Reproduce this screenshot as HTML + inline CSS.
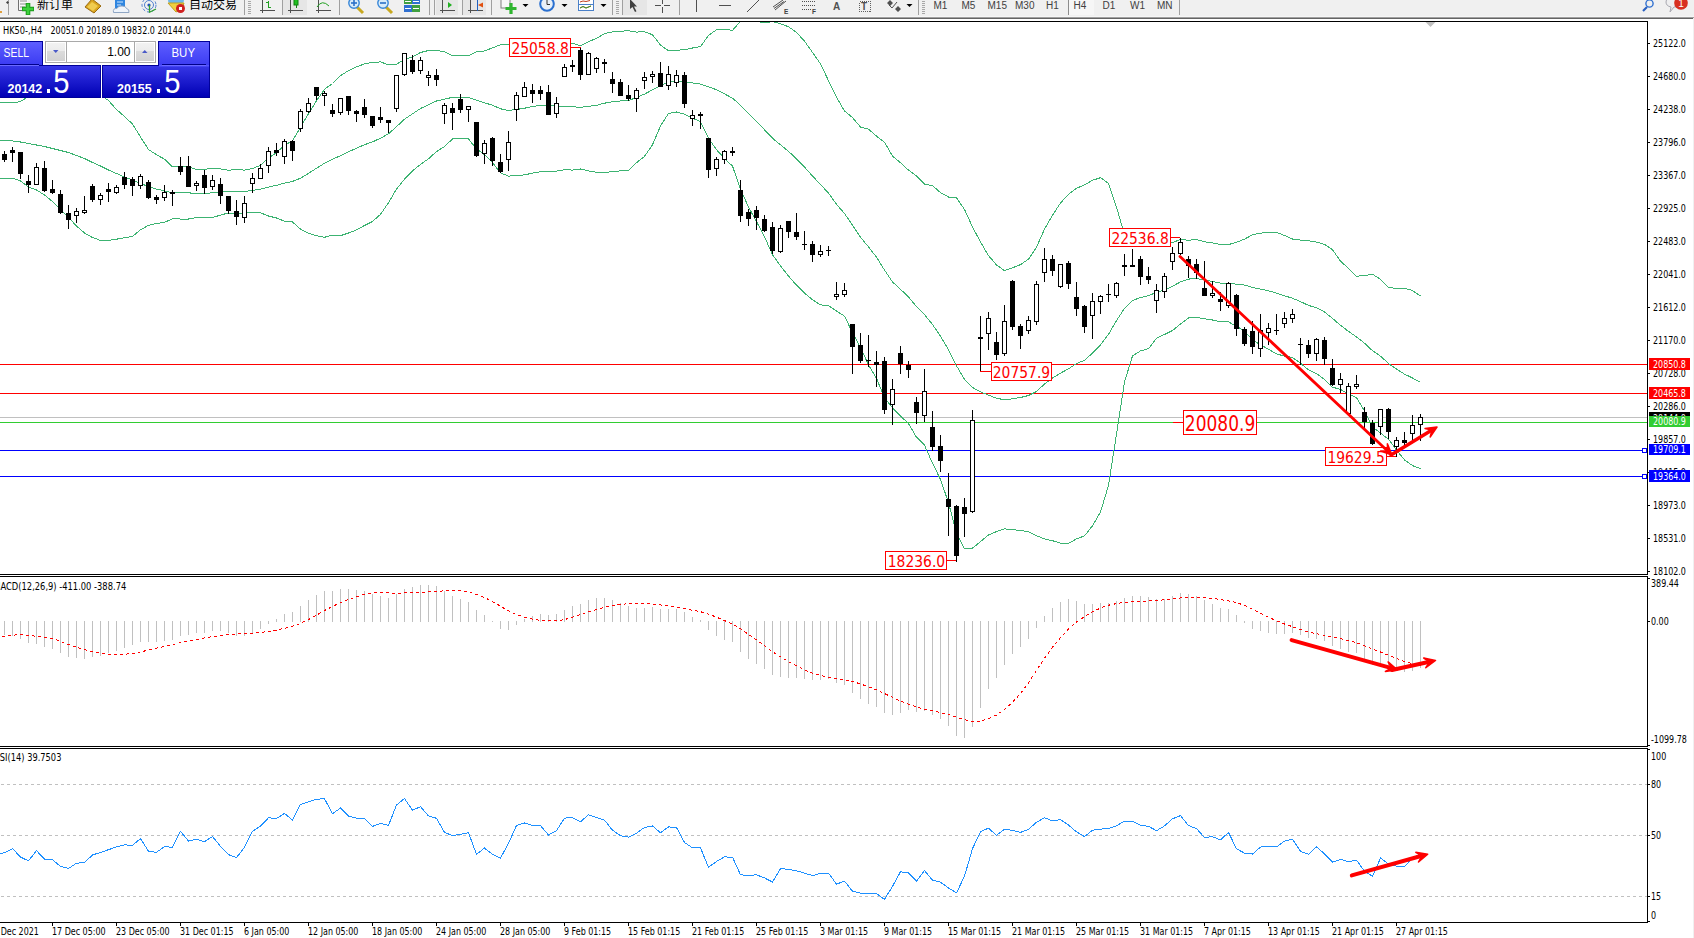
<!DOCTYPE html>
<html><head><meta charset="utf-8"><title>HK50 H4</title>
<style>
html,body{margin:0;padding:0;background:#fff;width:1694px;height:938px;overflow:hidden;position:relative;font-family:'Liberation Sans',Arial,sans-serif}
#ch{position:absolute;left:0;top:0}
#rs{position:absolute;left:1693px;top:18px;width:1px;height:920px;background:#f0f0f0}
</style></head><body>
<svg id="ch" width="1694" height="938" viewBox="0 0 1694 938">
<g shape-rendering="crispEdges" fill="none" stroke="#000" stroke-width="1">
<path d="M0 21.5H1647.5V574.5H0"/>
<path d="M0 576.5H1647.5V746.5H0"/>
<path d="M0 748.5H1647.5V922.5H0"/>
</g>
<g shape-rendering="crispEdges" stroke-width="1">
<path d="M0 364.5H1647" stroke="#ff0000"/>
<path d="M0 393.5H1647" stroke="#ff0000"/>
<path d="M0 417.5H1647" stroke="#c0c0c0"/>
<path d="M0 422.5H1647" stroke="#32cd32"/>
<path d="M0 450.5H1642" stroke="#0000ff"/>
<path d="M0 476.5H1642" stroke="#0000ff"/>
<rect x="1642.5" y="448.5" width="4" height="4" fill="#fff" stroke="#0000ff"/>
<rect x="1642.5" y="474.5" width="4" height="4" fill="#fff" stroke="#0000ff"/>
</g>
<defs><clipPath id="cm"><rect x="0" y="22" width="1647" height="552"/></clipPath></defs>
<g fill="none" stroke="#3cb371" stroke-width="1" shape-rendering="crispEdges" clip-path="url(#cm)">
<polyline points="-3.5,102.2 4.5,102.5 12.5,103.0 20.5,101.5 28.5,96.5 36.5,93.0 44.5,91.5 52.5,91.0 60.5,91.0 68.5,91.0 76.5,91.5 84.5,92.0 92.5,93.0 100.5,95.0 108.5,100.5 116.5,109.5 124.5,116.5 132.5,124.0 140.5,137.0 148.5,149.5 156.5,154.7 164.5,159.2 172.5,166.8 180.5,166.4 188.5,166.6 196.5,169.7 204.5,169.4 212.5,168.1 220.5,168.9 228.5,170.2 236.5,169.5 244.5,170.1 252.5,168.6 260.5,165.3 268.5,158.1 276.5,152.6 284.5,145.1 292.5,140.8 300.5,127.2 308.5,113.7 316.5,100.7 324.5,89.3 332.5,83.5 340.5,75.6 348.5,70.7 356.5,66.8 364.5,63.9 372.5,62.4 380.5,61.9 388.5,64.8 396.5,64.3 404.5,59.3 412.5,56.8 420.5,52.5 428.5,50.5 436.5,50.4 444.5,51.9 452.5,55.6 460.5,55.7 468.5,55.7 476.5,51.8 484.5,51.0 492.5,47.8 500.5,44.8 508.5,44.8 516.5,43.6 524.5,41.5 532.5,40.1 540.5,38.8 548.5,38.7 556.5,41.5 564.5,44.3 572.5,43.3 580.5,45.8 588.5,41.7 596.5,38.3 604.5,33.7 612.5,31.8 620.5,31.2 628.5,30.8 636.5,32.1 644.5,31.7 652.5,34.8 660.5,45.1 668.5,50.8 676.5,50.3 684.5,49.7 692.5,48.0 700.5,46.6 708.5,35.5 716.5,29.7 724.5,29.3 732.5,30.3 740.5,21.4 748.5,19.9 756.5,21.3 764.5,22.9 772.5,21.6 780.5,23.7 788.5,26.8 796.5,32.3 804.5,41.2 812.5,52.4 820.5,63.9 828.5,80.7 836.5,97.3 844.5,111.0 852.5,117.6 860.5,127.1 868.5,129.1 876.5,136.1 884.5,142.2 892.5,156.1 900.5,162.7 908.5,170.1 916.5,176.0 924.5,184.1 932.5,185.6 940.5,192.7 948.5,197.0 956.5,197.9 964.5,209.4 972.5,227.0 980.5,242.0 988.5,255.6 996.5,264.9 1004.5,270.7 1012.5,267.8 1020.5,264.6 1028.5,259.2 1036.5,247.3 1044.5,229.0 1052.5,215.3 1060.5,203.0 1068.5,194.2 1076.5,188.3 1084.5,184.8 1092.5,180.3 1100.5,177.7 1108.5,183.3 1116.5,207.3 1124.5,234.5 1132.5,245.3 1140.5,244.1 1148.5,242.4 1156.5,246.5 1164.5,245.7 1172.5,242.4 1180.5,239.6 1188.5,240.2 1196.5,239.5 1204.5,241.8 1212.5,242.8 1220.5,244.6 1228.5,244.6 1236.5,242.2 1244.5,239.2 1252.5,234.7 1260.5,233.2 1268.5,232.4 1276.5,232.4 1284.5,235.5 1292.5,239.0 1300.5,240.1 1308.5,240.8 1316.5,242.1 1324.5,244.4 1332.5,249.7 1340.5,261.2 1348.5,268.4 1356.5,276.2 1364.5,275.5 1372.5,274.3 1380.5,279.2 1388.5,287.7 1396.5,288.3 1404.5,288.2 1412.5,290.5 1420.5,296.1"/>
<polyline points="-3.5,140.2 4.5,140.5 12.5,141.0 20.5,142.0 28.5,143.5 36.5,145.0 44.5,146.5 52.5,148.5 60.5,150.5 68.5,152.5 76.5,155.5 84.5,158.5 92.5,162.5 100.5,166.0 108.5,170.0 116.5,173.5 124.5,177.0 132.5,180.0 140.5,183.5 148.5,186.5 156.5,189.1 164.5,190.8 172.5,192.8 180.5,192.7 188.5,192.8 196.5,193.6 204.5,193.4 212.5,192.8 220.5,192.0 228.5,191.6 236.5,191.8 244.5,191.4 252.5,190.4 260.5,189.1 268.5,187.1 276.5,185.3 284.5,183.2 292.5,181.4 300.5,178.2 308.5,173.4 316.5,168.2 324.5,163.3 332.5,159.3 340.5,155.7 348.5,151.8 356.5,148.3 364.5,144.7 372.5,141.9 380.5,138.2 388.5,133.8 396.5,126.7 404.5,119.2 412.5,113.8 420.5,108.5 428.5,104.7 436.5,101.0 444.5,99.2 452.5,97.3 460.5,97.2 468.5,97.3 476.5,100.3 484.5,102.8 492.5,105.2 500.5,108.8 508.5,110.5 516.5,109.5 524.5,108.2 532.5,106.6 540.5,105.3 548.5,104.9 556.5,106.3 564.5,107.0 572.5,106.7 580.5,107.4 588.5,106.3 596.5,105.3 604.5,103.2 612.5,101.7 620.5,101.0 628.5,100.6 636.5,97.4 644.5,94.1 652.5,89.8 660.5,85.5 668.5,82.1 676.5,81.1 684.5,81.9 692.5,83.0 700.5,84.1 708.5,86.9 716.5,89.7 724.5,93.9 732.5,98.2 740.5,105.2 748.5,113.5 756.5,121.5 764.5,129.8 772.5,138.2 780.5,144.8 788.5,151.4 796.5,158.8 804.5,167.1 812.5,176.1 820.5,184.4 828.5,193.2 836.5,204.2 844.5,213.6 852.5,225.1 860.5,237.3 868.5,246.9 876.5,257.2 884.5,270.1 892.5,281.9 900.5,289.3 908.5,296.9 916.5,306.6 924.5,314.7 932.5,324.5 940.5,336.1 948.5,349.8 956.5,365.8 964.5,379.2 972.5,387.5 980.5,391.9 988.5,395.2 996.5,398.2 1004.5,399.8 1012.5,398.8 1020.5,397.5 1028.5,395.5 1036.5,391.5 1044.5,384.0 1052.5,378.0 1060.5,373.1 1068.5,368.8 1076.5,363.6 1084.5,360.3 1092.5,353.1 1100.5,344.9 1108.5,334.3 1116.5,320.7 1124.5,308.3 1132.5,300.6 1140.5,297.5 1148.5,295.6 1156.5,292.4 1164.5,290.1 1172.5,286.4 1180.5,281.8 1188.5,279.1 1196.5,278.4 1204.5,280.2 1212.5,281.4 1220.5,283.2 1228.5,283.2 1236.5,284.2 1244.5,285.1 1252.5,287.4 1260.5,289.1 1268.5,290.8 1276.5,293.1 1284.5,295.8 1292.5,298.2 1300.5,301.6 1308.5,305.4 1316.5,307.8 1324.5,311.9 1332.5,318.4 1340.5,325.3 1348.5,331.4 1356.5,336.9 1364.5,343.2 1372.5,350.7 1380.5,356.1 1388.5,363.5 1396.5,369.1 1404.5,374.1 1412.5,378.0 1420.5,382.4"/>
<polyline points="-3.5,178.0 4.5,178.0 12.5,178.0 20.5,181.0 28.5,187.0 36.5,190.0 44.5,195.0 52.5,201.5 60.5,209.5 68.5,217.5 76.5,226.0 84.5,233.0 92.5,237.5 100.5,240.4 108.5,240.4 116.5,239.2 124.5,237.7 132.5,236.4 140.5,229.8 148.5,225.3 156.5,223.5 164.5,222.3 172.5,218.8 180.5,219.0 188.5,219.0 196.5,217.5 204.5,217.5 212.5,217.6 220.5,215.1 228.5,212.9 236.5,214.1 244.5,212.8 252.5,212.2 260.5,212.8 268.5,216.0 276.5,218.0 284.5,221.2 292.5,222.0 300.5,229.1 308.5,233.2 316.5,235.8 324.5,237.3 332.5,235.1 340.5,235.7 348.5,233.0 356.5,229.9 364.5,225.5 372.5,221.5 380.5,214.4 388.5,202.7 396.5,189.1 404.5,179.1 412.5,170.9 420.5,164.4 428.5,158.8 436.5,151.6 444.5,146.5 452.5,139.0 460.5,138.7 468.5,139.0 476.5,148.9 484.5,154.7 492.5,162.6 500.5,172.9 508.5,176.1 516.5,175.5 524.5,174.9 532.5,173.1 540.5,171.8 548.5,171.1 556.5,171.1 564.5,169.7 572.5,170.1 580.5,169.0 588.5,170.9 596.5,172.3 604.5,172.6 612.5,171.6 620.5,170.9 628.5,170.5 636.5,162.7 644.5,156.4 652.5,144.8 660.5,126.0 668.5,113.4 676.5,112.0 684.5,114.2 692.5,118.1 700.5,121.7 708.5,138.3 716.5,149.7 724.5,158.5 732.5,166.1 740.5,189.1 748.5,207.1 756.5,221.6 764.5,236.7 772.5,254.7 780.5,265.9 788.5,276.1 796.5,285.2 804.5,293.0 812.5,299.8 820.5,304.9 828.5,305.7 836.5,311.1 844.5,316.1 852.5,332.6 860.5,347.6 868.5,364.8 876.5,378.3 884.5,398.0 892.5,407.8 900.5,416.0 908.5,423.6 916.5,437.2 924.5,445.2 932.5,463.3 940.5,479.4 948.5,502.7 956.5,533.6 964.5,549.0 972.5,548.1 980.5,541.7 988.5,534.9 996.5,531.6 1004.5,528.8 1012.5,529.7 1020.5,530.4 1028.5,531.7 1036.5,535.7 1044.5,538.9 1052.5,540.7 1060.5,543.1 1068.5,543.3 1076.5,538.9 1084.5,535.9 1092.5,525.8 1100.5,512.0 1108.5,485.3 1116.5,434.1 1124.5,382.1 1132.5,355.9 1140.5,350.9 1148.5,348.7 1156.5,338.2 1164.5,334.5 1172.5,330.5 1180.5,324.0 1188.5,317.9 1196.5,317.4 1204.5,318.7 1212.5,320.0 1220.5,321.9 1228.5,321.9 1236.5,326.3 1244.5,331.0 1252.5,340.0 1260.5,344.9 1268.5,349.2 1276.5,353.9 1284.5,356.1 1292.5,357.5 1300.5,363.2 1308.5,369.9 1316.5,373.5 1324.5,379.4 1332.5,387.2 1340.5,389.4 1348.5,394.3 1356.5,397.6 1364.5,410.9 1372.5,427.2 1380.5,433.0 1388.5,439.3 1396.5,450.0 1404.5,459.9 1412.5,465.6 1420.5,468.6"/>
</g>
<g shape-rendering="crispEdges">
<path d="M4.5 151V162M12.5 147V162M20.5 152V179M28.5 175V193M36.5 163V185M44.5 161V192M52.5 180V194M60.5 190V214M68.5 205V229M76.5 208V223M84.5 196V214M92.5 184V202M100.5 193V205M108.5 183V202M116.5 185V194M124.5 172V189M132.5 177V196M140.5 174V189M148.5 180V199M156.5 195V204M164.5 185V201M172.5 190V206M180.5 157V175M188.5 156V187M196.5 181V191M204.5 170V194M212.5 175V190M220.5 178V204M228.5 196V214M236.5 200V225M244.5 196V223M252.5 173V193M260.5 164V179M268.5 147V173M276.5 143V156M284.5 139V164M292.5 140V161M300.5 109V132M308.5 98V113M316.5 87V100M324.5 91V106M332.5 104V117M340.5 98V115M348.5 96V115M356.5 110V122M364.5 99V118M372.5 116V128M380.5 107V123M388.5 120V133M396.5 75V112M404.5 53V76M412.5 55V74M420.5 57V74M428.5 71V86M436.5 69V86M444.5 103V124M452.5 103V130M460.5 94V113M468.5 106V122M476.5 122V157M484.5 140V164M492.5 137V166M500.5 154V173M508.5 131V171M516.5 92V121M524.5 82V97M532.5 84V103M540.5 86V100M548.5 85V115M556.5 97V118M564.5 64V77M572.5 60V72M580.5 48V80M588.5 52V75M596.5 57V73M604.5 59V73M612.5 72V93M620.5 79V96M628.5 85V101M636.5 88V112M644.5 72V89M652.5 71V83M660.5 62V87M668.5 66V90M676.5 70V87M684.5 72V108M692.5 110V126M700.5 112V129M708.5 138V178M716.5 157V176M724.5 150V164M732.5 147V156M740.5 180V222M748.5 209V226M756.5 206V230M764.5 215V232M772.5 222V254M780.5 225V253M788.5 221V238M796.5 213V240M804.5 231V250M812.5 241V262M820.5 245V257M828.5 246V256M836.5 282V300M844.5 283V297M852.5 324V374M860.5 333V363M868.5 335V367M876.5 351V387M884.5 357V414M892.5 379V425M900.5 346V374M908.5 361V378M916.5 397V424M924.5 369V422M932.5 411V451M940.5 435V472M948.5 473V536M956.5 505V562M964.5 498V537M972.5 410V513M980.5 316V372M988.5 312V350M996.5 332V360M1004.5 305V356M1012.5 280V330M1020.5 324V349M1028.5 316V334M1036.5 281V325M1044.5 248V282M1052.5 255V276M1060.5 264V288M1068.5 261V289M1076.5 282V316M1084.5 305V333M1092.5 293V339M1100.5 295V314M1108.5 284V302M1116.5 282V298M1124.5 254V276M1132.5 249V267M1140.5 256V285M1148.5 267V284M1156.5 284V313M1164.5 273V298M1172.5 247V270M1180.5 238V255M1188.5 256V278M1196.5 259V279M1204.5 261V296M1212.5 281V298M1220.5 292V311M1228.5 282V308M1236.5 294V336M1244.5 327V346M1252.5 321V354M1260.5 314V357M1268.5 323V345M1276.5 314V335M1284.5 312V328M1292.5 309V323M1300.5 338V365M1308.5 340V358M1316.5 338V361M1324.5 337V365M1332.5 359V386M1340.5 373V393M1348.5 383V414M1356.5 375V389M1364.5 407V429M1372.5 420V445M1380.5 409V435M1388.5 408V439M1396.5 437V457M1404.5 432V445M1412.5 415V440M1420.5 414V441" stroke="#000" stroke-width="1" fill="none"/>
<g fill="#000"><rect x="2" y="154" width="5" height="6"/><rect x="10" y="150" width="5" height="3"/><rect x="18" y="152" width="5" height="22"/><rect x="26" y="181" width="5" height="4"/><rect x="42" y="168" width="5" height="23"/><rect x="50" y="189" width="5" height="4"/><rect x="58" y="194" width="5" height="19"/><rect x="66" y="213" width="5" height="7"/><rect x="90" y="186" width="5" height="14"/><rect x="106" y="189" width="5" height="3"/><rect x="122" y="177" width="5" height="8"/><rect x="130" y="179" width="5" height="7"/><rect x="146" y="182" width="5" height="16"/><rect x="154" y="197" width="5" height="3"/><rect x="170" y="192" width="5" height="2"/><rect x="178" y="166" width="5" height="6"/><rect x="186" y="166" width="5" height="21"/><rect x="202" y="175" width="5" height="13"/><rect x="218" y="184" width="5" height="12"/><rect x="226" y="196" width="5" height="15"/><rect x="234" y="211" width="5" height="6"/><rect x="274" y="150" width="5" height="3"/><rect x="290" y="141" width="5" height="10"/><rect x="314" y="87" width="5" height="9"/><rect x="330" y="110" width="5" height="4"/><rect x="346" y="96" width="5" height="15"/><rect x="354" y="111" width="5" height="3"/><rect x="362" y="107" width="5" height="8"/><rect x="370" y="116" width="5" height="10"/><rect x="378" y="117" width="5" height="3"/><rect x="386" y="120" width="5" height="3"/><rect x="410" y="60" width="5" height="12"/><rect x="434" y="75" width="5" height="5"/><rect x="450" y="108" width="5" height="5"/><rect x="458" y="99" width="5" height="11"/><rect x="474" y="122" width="5" height="34"/><rect x="490" y="138" width="5" height="23"/><rect x="498" y="162" width="5" height="10"/><rect x="530" y="90" width="5" height="4"/><rect x="538" y="90" width="5" height="4"/><rect x="546" y="92" width="5" height="23"/><rect x="570" y="65" width="5" height="2"/><rect x="578" y="50" width="5" height="25"/><rect x="602" y="62" width="5" height="2"/><rect x="610" y="79" width="5" height="5"/><rect x="618" y="82" width="5" height="14"/><rect x="626" y="95" width="5" height="4"/><rect x="658" y="73" width="5" height="14"/><rect x="682" y="75" width="5" height="29"/><rect x="698" y="114" width="5" height="2"/><rect x="706" y="138" width="5" height="32"/><rect x="730" y="151" width="5" height="2"/><rect x="738" y="190" width="5" height="26"/><rect x="746" y="212" width="5" height="7"/><rect x="754" y="210" width="5" height="8"/><rect x="762" y="219" width="5" height="12"/><rect x="770" y="227" width="5" height="24"/><rect x="786" y="221" width="5" height="11"/><rect x="794" y="232" width="5" height="5"/><rect x="802" y="244" width="5" height="1"/><rect x="810" y="244" width="5" height="11"/><rect x="826" y="250" width="5" height="1"/><rect x="850" y="324" width="5" height="23"/><rect x="858" y="345" width="5" height="16"/><rect x="866" y="360" width="5" height="1"/><rect x="874" y="362" width="5" height="3"/><rect x="882" y="361" width="5" height="49"/><rect x="898" y="353" width="5" height="11"/><rect x="906" y="365" width="5" height="5"/><rect x="914" y="402" width="5" height="11"/><rect x="930" y="427" width="5" height="20"/><rect x="938" y="446" width="5" height="15"/><rect x="946" y="499" width="5" height="8"/><rect x="954" y="506" width="5" height="50"/><rect x="962" y="507" width="5" height="7"/><rect x="978" y="337" width="5" height="2"/><rect x="994" y="342" width="5" height="13"/><rect x="1010" y="281" width="5" height="46"/><rect x="1018" y="326" width="5" height="10"/><rect x="1050" y="259" width="5" height="12"/><rect x="1066" y="263" width="5" height="21"/><rect x="1074" y="297" width="5" height="12"/><rect x="1082" y="306" width="5" height="21"/><rect x="1106" y="294" width="5" height="1"/><rect x="1122" y="265" width="5" height="2"/><rect x="1130" y="265" width="5" height="2"/><rect x="1138" y="259" width="5" height="18"/><rect x="1146" y="276" width="5" height="4"/><rect x="1186" y="259" width="5" height="7"/><rect x="1194" y="264" width="5" height="9"/><rect x="1202" y="288" width="5" height="8"/><rect x="1218" y="299" width="5" height="3"/><rect x="1234" y="295" width="5" height="34"/><rect x="1242" y="329" width="5" height="15"/><rect x="1250" y="331" width="5" height="16"/><rect x="1274" y="330" width="5" height="1"/><rect x="1298" y="344" width="5" height="1"/><rect x="1306" y="345" width="5" height="9"/><rect x="1322" y="340" width="5" height="19"/><rect x="1330" y="368" width="5" height="17"/><rect x="1362" y="412" width="5" height="10"/><rect x="1370" y="423" width="5" height="21"/><rect x="1386" y="409" width="5" height="23"/><rect x="1402" y="440" width="5" height="3"/></g>
<g fill="#fff" stroke="#000" stroke-width="1"><rect x="34.5" y="167.5" width="4" height="17"/><rect x="74.5" y="211.5" width="4" height="4"/><rect x="82.5" y="210.5" width="4" height="2"/><rect x="98.5" y="195.5" width="4" height="4"/><rect x="114.5" y="187.5" width="4" height="5"/><rect x="138.5" y="176.5" width="4" height="9"/><rect x="162.5" y="192.5" width="4" height="5"/><rect x="194.5" y="183.5" width="4" height="2"/><rect x="210.5" y="180.5" width="4" height="6"/><rect x="242.5" y="203.5" width="4" height="14"/><rect x="250.5" y="178.5" width="4" height="5"/><rect x="258.5" y="168.5" width="4" height="10"/><rect x="266.5" y="151.5" width="4" height="14"/><rect x="282.5" y="141.5" width="4" height="15"/><rect x="298.5" y="111.5" width="4" height="17"/><rect x="306.5" y="103.5" width="4" height="8"/><rect x="322.5" y="93.5" width="4" height="2"/><rect x="338.5" y="98.5" width="4" height="14"/><rect x="394.5" y="75.5" width="4" height="33"/><rect x="402.5" y="53.5" width="4" height="21"/><rect x="418.5" y="60.5" width="4" height="10"/><rect x="426.5" y="75.5" width="4" height="2"/><rect x="442.5" y="105.5" width="4" height="8"/><rect x="466.5" y="106.5" width="4" height="3"/><rect x="482.5" y="143.5" width="4" height="10"/><rect x="506.5" y="142.5" width="4" height="17"/><rect x="514.5" y="95.5" width="4" height="14"/><rect x="522.5" y="87.5" width="4" height="9"/><rect x="554.5" y="103.5" width="4" height="10"/><rect x="562.5" y="67.5" width="4" height="9"/><rect x="586.5" y="53.5" width="4" height="21"/><rect x="594.5" y="58.5" width="4" height="10"/><rect x="634.5" y="90.5" width="4" height="8"/><rect x="642.5" y="77.5" width="4" height="3"/><rect x="650.5" y="74.5" width="4" height="2"/><rect x="666.5" y="74.5" width="4" height="11"/><rect x="674.5" y="75.5" width="4" height="7"/><rect x="690.5" y="115.5" width="4" height="3"/><rect x="714.5" y="159.5" width="4" height="9"/><rect x="722.5" y="151.5" width="4" height="8"/><rect x="778.5" y="228.5" width="4" height="23"/><rect x="818.5" y="251.5" width="4" height="3"/><rect x="834.5" y="294.5" width="4" height="2"/><rect x="842.5" y="290.5" width="4" height="4"/><rect x="890.5" y="389.5" width="4" height="15"/><rect x="922.5" y="391.5" width="4" height="24"/><rect x="970.5" y="420.5" width="4" height="91"/><rect x="986.5" y="318.5" width="4" height="15"/><rect x="1002.5" y="321.5" width="4" height="32"/><rect x="1026.5" y="320.5" width="4" height="10"/><rect x="1034.5" y="284.5" width="4" height="37"/><rect x="1042.5" y="259.5" width="4" height="13"/><rect x="1058.5" y="264.5" width="4" height="22"/><rect x="1090.5" y="301.5" width="4" height="14"/><rect x="1098.5" y="296.5" width="4" height="5"/><rect x="1114.5" y="283.5" width="4" height="12"/><rect x="1154.5" y="290.5" width="4" height="10"/><rect x="1162.5" y="276.5" width="4" height="15"/><rect x="1170.5" y="253.5" width="4" height="8"/><rect x="1178.5" y="242.5" width="4" height="11"/><rect x="1210.5" y="293.5" width="4" height="2"/><rect x="1226.5" y="283.5" width="4" height="22"/><rect x="1258.5" y="330.5" width="4" height="18"/><rect x="1266.5" y="328.5" width="4" height="4"/><rect x="1282.5" y="318.5" width="4" height="5"/><rect x="1290.5" y="314.5" width="4" height="4"/><rect x="1314.5" y="339.5" width="4" height="14"/><rect x="1338.5" y="379.5" width="4" height="5"/><rect x="1346.5" y="386.5" width="4" height="27"/><rect x="1354.5" y="384.5" width="4" height="2"/><rect x="1378.5" y="409.5" width="4" height="17"/><rect x="1394.5" y="440.5" width="4" height="6"/><rect x="1410.5" y="425.5" width="4" height="8"/><rect x="1418.5" y="417.5" width="4" height="7"/></g>
</g>
<g shape-rendering="crispEdges" stroke="#c0c0c0" stroke-width="1">
<path d="M4.5 621V635M12.5 621V636M20.5 621V639M28.5 621V643M36.5 621V644M44.5 621V647M52.5 621V649M60.5 621V653M68.5 621V657M76.5 621V658M84.5 621V659M92.5 621V657M100.5 621V656M108.5 621V653M116.5 621V651M124.5 621V648M132.5 621V645M140.5 621V642M148.5 621V642M156.5 621V642M164.5 621V641M172.5 621V640M180.5 621V636M188.5 621V635M196.5 621V633M204.5 621V633M212.5 621V631M220.5 621V631M228.5 621V633M236.5 621V636M244.5 621V636M252.5 621V633M260.5 621V629M268.5 621V624M276.5 619V622M284.5 614V622M292.5 612V622M300.5 606V622M308.5 600V622M316.5 595V622M324.5 591V622M332.5 591V622M340.5 589V622M348.5 589V622M356.5 590V622M364.5 591V622M372.5 594V622M380.5 596V622M388.5 598V622M396.5 594V622M404.5 589V622M412.5 587V622M420.5 585V622M428.5 585V622M436.5 586V622M444.5 591V622M452.5 596V622M460.5 599V622M468.5 602V622M476.5 610V622M484.5 615V622M492.5 621V622M500.5 621V629M508.5 621V630M516.5 621V625M524.5 619V622M532.5 616V622M540.5 614V622M548.5 615V622M556.5 614V622M564.5 610V622M572.5 606V622M580.5 604V622M588.5 600V622M596.5 598V622M604.5 598V622M612.5 600V622M620.5 603V622M628.5 606V622M636.5 608V622M644.5 608V622M652.5 607V622M660.5 609V622M668.5 609V622M676.5 609V622M684.5 612V622M692.5 617V622M700.5 620V622M708.5 621V630M716.5 621V636M724.5 621V640M732.5 621V642M740.5 621V652M748.5 621V659M756.5 621V664M764.5 621V669M772.5 621V675M780.5 621V677M788.5 621V678M796.5 621V678M804.5 621V679M812.5 621V680M820.5 621V680M828.5 621V679M836.5 621V683M844.5 621V685M852.5 621V693M860.5 621V699M868.5 621V704M876.5 621V707M884.5 621V713M892.5 621V715M900.5 621V713M908.5 621V710M916.5 621V712M924.5 621V711M932.5 621V715M940.5 621V719M948.5 621V726M956.5 621V736M964.5 621V738M972.5 621V727M980.5 621V708M988.5 621V689M996.5 621V678M1004.5 621V665M1012.5 621V654M1020.5 621V647M1028.5 621V639M1036.5 621V628M1044.5 616V622M1052.5 608V622M1060.5 602V622M1068.5 599V622M1076.5 601V622M1084.5 604V622M1092.5 604V622M1100.5 603V622M1108.5 603V622M1116.5 601V622M1124.5 598V622M1132.5 596V622M1140.5 596V622M1148.5 597V622M1156.5 599V622M1164.5 599V622M1172.5 596V622M1180.5 593V622M1188.5 594V622M1196.5 596V622M1204.5 600V622M1212.5 604V622M1220.5 608V622M1228.5 609V622M1236.5 615V622M1244.5 621V623M1252.5 621V629M1260.5 621V631M1268.5 621V633M1276.5 621V634M1284.5 621V634M1292.5 621V633M1300.5 621V635M1308.5 621V638M1316.5 621V639M1324.5 621V641M1332.5 621V646M1340.5 621V649M1348.5 621V652M1356.5 621V653M1364.5 621V659M1372.5 621V665M1380.5 621V666M1388.5 621V668M1396.5 621V671M1404.5 621V672M1412.5 621V671M1420.5 621V668"/>
</g>
<polyline points="-3.5,637.1 4.5,636.5 12.5,635.3 20.5,634.3 28.5,635.3 36.5,636.3 44.5,637.3 52.5,638.3 60.5,641.3 68.5,644.5 76.5,647.1 84.5,649.7 92.5,651.7 100.5,653.0 108.5,654.1 116.5,654.5 124.5,654.3 132.5,653.5 140.5,651.9 148.5,650.1 156.5,648.2 164.5,646.4 172.5,644.6 180.5,642.7 188.5,640.9 196.5,639.4 204.5,637.9 212.5,636.7 220.5,635.5 228.5,634.6 236.5,634.0 244.5,633.6 252.5,633.2 260.5,632.5 268.5,631.4 276.5,630.0 284.5,628.3 292.5,626.3 300.5,623.3 308.5,619.5 316.5,615.1 324.5,610.6 332.5,606.4 340.5,602.7 348.5,599.4 356.5,596.7 364.5,594.4 372.5,593.1 380.5,592.6 388.5,592.9 396.5,593.2 404.5,593.0 412.5,592.8 420.5,592.3 428.5,591.8 436.5,591.2 444.5,590.9 452.5,590.9 460.5,591.0 468.5,591.9 476.5,594.3 484.5,597.5 492.5,601.5 500.5,606.2 508.5,610.9 516.5,614.6 524.5,617.2 532.5,619.1 540.5,620.5 548.5,621.0 556.5,620.9 564.5,619.6 572.5,617.2 580.5,614.4 588.5,611.8 596.5,609.5 604.5,607.4 612.5,605.8 620.5,604.5 628.5,603.6 636.5,603.4 644.5,603.6 652.5,604.0 660.5,604.9 668.5,606.0 676.5,607.3 684.5,608.7 692.5,610.2 700.5,611.7 708.5,614.1 716.5,617.1 724.5,620.6 732.5,624.2 740.5,628.8 748.5,634.3 756.5,640.0 764.5,645.7 772.5,651.8 780.5,656.9 788.5,661.6 796.5,665.8 804.5,669.9 812.5,673.1 820.5,675.4 828.5,677.1 836.5,678.6 844.5,679.7 852.5,681.5 860.5,683.9 868.5,686.8 876.5,689.8 884.5,693.5 892.5,697.4 900.5,701.1 908.5,704.1 916.5,707.1 924.5,709.1 932.5,710.8 940.5,712.5 948.5,714.6 956.5,717.2 964.5,719.7 972.5,721.4 980.5,721.2 988.5,718.6 996.5,715.0 1004.5,709.4 1012.5,702.3 1020.5,693.5 1028.5,682.7 1036.5,670.5 1044.5,658.2 1052.5,647.3 1060.5,637.7 1068.5,629.1 1076.5,622.1 1084.5,616.6 1092.5,611.9 1100.5,608.0 1108.5,605.2 1116.5,603.6 1124.5,602.4 1132.5,601.8 1140.5,601.4 1148.5,601.0 1156.5,600.4 1164.5,599.8 1172.5,599.1 1180.5,598.0 1188.5,597.3 1196.5,597.0 1204.5,597.5 1212.5,598.4 1220.5,599.6 1228.5,600.8 1236.5,602.6 1244.5,605.4 1252.5,609.2 1260.5,613.2 1268.5,617.2 1276.5,620.8 1284.5,624.0 1292.5,626.7 1300.5,629.5 1308.5,632.0 1316.5,633.8 1324.5,635.2 1332.5,636.9 1340.5,638.7 1348.5,640.6 1356.5,642.8 1364.5,645.7 1372.5,649.0 1380.5,652.0 1388.5,655.3 1396.5,658.5 1404.5,661.4 1412.5,663.8 1420.5,665.7" fill="none" stroke="#ff0000" stroke-width="1" stroke-dasharray="3 3" shape-rendering="crispEdges"/>
<g shape-rendering="crispEdges" stroke="#c0c0c0" stroke-width="1" stroke-dasharray="3 3">
<path d="M1 784.5H1647"/>
<path d="M1 835.5H1647"/>
<path d="M1 896.5H1647"/>
</g>
<polyline points="-3.5,854.7 4.5,852.7 12.5,848.6 20.5,857.0 28.5,860.9 36.5,850.7 44.5,859.1 52.5,859.8 60.5,866.4 68.5,868.5 76.5,863.2 84.5,862.5 92.5,855.0 100.5,852.4 108.5,849.7 116.5,846.9 124.5,844.8 132.5,845.4 140.5,838.6 148.5,851.2 156.5,852.3 164.5,846.7 172.5,847.3 180.5,831.4 188.5,841.1 196.5,839.1 204.5,841.7 212.5,836.5 220.5,846.3 228.5,854.6 236.5,857.6 244.5,847.4 252.5,831.4 260.5,826.0 268.5,817.8 276.5,818.5 284.5,813.4 292.5,820.1 300.5,804.4 308.5,801.8 316.5,799.3 324.5,798.7 332.5,813.7 340.5,808.0 348.5,816.1 356.5,818.1 364.5,818.8 372.5,826.4 380.5,823.3 388.5,825.4 396.5,805.1 404.5,798.5 412.5,810.3 420.5,806.7 428.5,815.9 436.5,818.3 444.5,832.3 452.5,835.7 460.5,834.3 468.5,832.7 476.5,854.3 484.5,848.1 492.5,854.3 500.5,858.0 508.5,843.4 516.5,825.5 524.5,823.0 532.5,825.6 540.5,825.6 548.5,835.0 556.5,830.6 564.5,818.1 572.5,817.6 580.5,821.8 588.5,814.8 596.5,817.4 604.5,820.1 612.5,830.2 620.5,835.7 628.5,837.1 636.5,833.3 644.5,827.4 652.5,826.0 660.5,832.7 668.5,826.9 676.5,827.5 684.5,842.5 692.5,847.9 700.5,847.9 708.5,867.3 716.5,861.5 724.5,856.9 732.5,857.2 740.5,874.8 748.5,875.5 756.5,874.8 764.5,877.9 772.5,882.1 780.5,868.6 788.5,869.4 796.5,870.8 804.5,873.1 812.5,875.6 820.5,873.4 828.5,873.1 836.5,884.1 844.5,881.2 852.5,891.2 860.5,893.1 868.5,893.2 876.5,893.7 884.5,899.3 892.5,886.4 900.5,871.7 908.5,873.0 916.5,881.2 924.5,870.6 932.5,880.2 940.5,882.2 948.5,888.0 956.5,892.9 964.5,876.2 972.5,848.7 980.5,831.7 988.5,828.1 996.5,835.4 1004.5,829.3 1012.5,830.4 1020.5,832.4 1028.5,829.3 1036.5,822.3 1044.5,817.8 1052.5,820.8 1060.5,819.6 1068.5,825.1 1076.5,831.9 1084.5,836.5 1092.5,830.3 1100.5,829.1 1108.5,828.7 1116.5,825.7 1124.5,821.2 1132.5,821.3 1140.5,825.2 1148.5,826.3 1156.5,830.7 1164.5,825.9 1172.5,818.8 1180.5,815.6 1188.5,825.6 1196.5,828.5 1204.5,837.5 1212.5,836.7 1220.5,839.9 1228.5,832.5 1236.5,848.7 1244.5,853.2 1252.5,854.1 1260.5,847.1 1268.5,846.2 1276.5,846.9 1284.5,841.1 1292.5,839.2 1300.5,851.3 1308.5,854.3 1316.5,846.9 1324.5,853.9 1332.5,862.1 1340.5,859.4 1348.5,861.6 1356.5,860.1 1364.5,871.2 1372.5,876.3 1380.5,858.1 1388.5,863.9 1396.5,866.2 1404.5,866.7 1412.5,857.6 1420.5,853.6" fill="none" stroke="#1e90ff" stroke-width="1" shape-rendering="crispEdges"/>
<g font-family="'Liberation Sans', Arial, sans-serif">
<text transform="translate(1653 47) scale(0.83 1)" font-size="9.6" fill="#000" font-family="'DejaVu Sans', sans-serif" text-anchor="start" font-weight="normal" >25122.0</text>
<text transform="translate(1653 80) scale(0.83 1)" font-size="9.6" fill="#000" font-family="'DejaVu Sans', sans-serif" text-anchor="start" font-weight="normal" >24680.0</text>
<text transform="translate(1653 113) scale(0.83 1)" font-size="9.6" fill="#000" font-family="'DejaVu Sans', sans-serif" text-anchor="start" font-weight="normal" >24238.0</text>
<text transform="translate(1653 146) scale(0.83 1)" font-size="9.6" fill="#000" font-family="'DejaVu Sans', sans-serif" text-anchor="start" font-weight="normal" >23796.0</text>
<text transform="translate(1653 179) scale(0.83 1)" font-size="9.6" fill="#000" font-family="'DejaVu Sans', sans-serif" text-anchor="start" font-weight="normal" >23367.0</text>
<text transform="translate(1653 212) scale(0.83 1)" font-size="9.6" fill="#000" font-family="'DejaVu Sans', sans-serif" text-anchor="start" font-weight="normal" >22925.0</text>
<text transform="translate(1653 245) scale(0.83 1)" font-size="9.6" fill="#000" font-family="'DejaVu Sans', sans-serif" text-anchor="start" font-weight="normal" >22483.0</text>
<text transform="translate(1653 278) scale(0.83 1)" font-size="9.6" fill="#000" font-family="'DejaVu Sans', sans-serif" text-anchor="start" font-weight="normal" >22041.0</text>
<text transform="translate(1653 311) scale(0.83 1)" font-size="9.6" fill="#000" font-family="'DejaVu Sans', sans-serif" text-anchor="start" font-weight="normal" >21612.0</text>
<text transform="translate(1653 344) scale(0.83 1)" font-size="9.6" fill="#000" font-family="'DejaVu Sans', sans-serif" text-anchor="start" font-weight="normal" >21170.0</text>
<text transform="translate(1653 377) scale(0.83 1)" font-size="9.6" fill="#000" font-family="'DejaVu Sans', sans-serif" text-anchor="start" font-weight="normal" >20728.0</text>
<text transform="translate(1653 410) scale(0.83 1)" font-size="9.6" fill="#000" font-family="'DejaVu Sans', sans-serif" text-anchor="start" font-weight="normal" >20286.0</text>
<text transform="translate(1653 443) scale(0.83 1)" font-size="9.6" fill="#000" font-family="'DejaVu Sans', sans-serif" text-anchor="start" font-weight="normal" >19857.0</text>
<text transform="translate(1653 476) scale(0.83 1)" font-size="9.6" fill="#000" font-family="'DejaVu Sans', sans-serif" text-anchor="start" font-weight="normal" >19415.0</text>
<text transform="translate(1653 509) scale(0.83 1)" font-size="9.6" fill="#000" font-family="'DejaVu Sans', sans-serif" text-anchor="start" font-weight="normal" >18973.0</text>
<text transform="translate(1653 542) scale(0.83 1)" font-size="9.6" fill="#000" font-family="'DejaVu Sans', sans-serif" text-anchor="start" font-weight="normal" >18531.0</text>
<text transform="translate(1653 575) scale(0.83 1)" font-size="9.6" fill="#000" font-family="'DejaVu Sans', sans-serif" text-anchor="start" font-weight="normal" >18102.0</text>
<path d="M1648 43.5H1650M1648 76.5H1650M1648 109.5H1650M1648 142.5H1650M1648 175.5H1650M1648 208.5H1650M1648 241.5H1650M1648 274.5H1650M1648 307.5H1650M1648 340.5H1650M1648 373.5H1650M1648 406.5H1650M1648 439.5H1650M1648 472.5H1650M1648 505.5H1650M1648 538.5H1650M1648 571.5H1650" stroke="#000" shape-rendering="crispEdges"/>
<rect x="1649" y="358" width="41" height="12" fill="#ff0000"/>
<text transform="translate(1653 367.5) scale(0.83 1)" font-size="9.6" fill="#fff" font-family="'DejaVu Sans', sans-serif" text-anchor="start" font-weight="normal" >20850.8</text>
<rect x="1649" y="387" width="41" height="12" fill="#ff0000"/>
<text transform="translate(1653 396.5) scale(0.83 1)" font-size="9.6" fill="#fff" font-family="'DejaVu Sans', sans-serif" text-anchor="start" font-weight="normal" >20465.8</text>
<rect x="1649" y="412" width="41" height="12" fill="#000000"/>
<text transform="translate(1653 421.5) scale(0.83 1)" font-size="9.6" fill="#fff" font-family="'DejaVu Sans', sans-serif" text-anchor="start" font-weight="normal" >20144.0</text>
<rect x="1649" y="416" width="41" height="11" fill="#32cd32"/>
<text transform="translate(1653 425.0) scale(0.83 1)" font-size="9.6" fill="#fff" font-family="'DejaVu Sans', sans-serif" text-anchor="start" font-weight="normal" >20080.9</text>
<rect x="1649" y="444" width="41" height="11" fill="#0000ff"/>
<text transform="translate(1653 453.0) scale(0.83 1)" font-size="9.6" fill="#fff" font-family="'DejaVu Sans', sans-serif" text-anchor="start" font-weight="normal" >19709.1</text>
<rect x="1649" y="470" width="41" height="12" fill="#0000ff"/>
<text transform="translate(1653 479.5) scale(0.83 1)" font-size="9.6" fill="#fff" font-family="'DejaVu Sans', sans-serif" text-anchor="start" font-weight="normal" >19364.0</text>
<path d="M1648 578.5H1650M1648 621.5H1650M1648 745.5H1650" stroke="#000" shape-rendering="crispEdges"/>
<text transform="translate(1651 587) scale(0.83 1)" font-size="9.6" fill="#000" font-family="'DejaVu Sans', sans-serif" text-anchor="start" font-weight="normal" >389.44</text>
<text transform="translate(1651 625) scale(0.83 1)" font-size="9.6" fill="#000" font-family="'DejaVu Sans', sans-serif" text-anchor="start" font-weight="normal" >0.00</text>
<text transform="translate(1651 743) scale(0.83 1)" font-size="9.6" fill="#000" font-family="'DejaVu Sans', sans-serif" text-anchor="start" font-weight="normal" >-1099.78</text>
<path d="M1648 749.5H1650M1648 784.5H1650M1648 835.5H1650M1648 896.5H1650M1648 921.5H1650" stroke="#000" shape-rendering="crispEdges"/>
<text transform="translate(1651 759.5) scale(0.83 1)" font-size="9.6" fill="#000" font-family="'DejaVu Sans', sans-serif" text-anchor="start" font-weight="normal" >100</text>
<text transform="translate(1651 788) scale(0.83 1)" font-size="9.6" fill="#000" font-family="'DejaVu Sans', sans-serif" text-anchor="start" font-weight="normal" >80</text>
<text transform="translate(1651 839) scale(0.83 1)" font-size="9.6" fill="#000" font-family="'DejaVu Sans', sans-serif" text-anchor="start" font-weight="normal" >50</text>
<text transform="translate(1651 900) scale(0.83 1)" font-size="9.6" fill="#000" font-family="'DejaVu Sans', sans-serif" text-anchor="start" font-weight="normal" >15</text>
<text transform="translate(1651 919) scale(0.83 1)" font-size="9.6" fill="#000" font-family="'DejaVu Sans', sans-serif" text-anchor="start" font-weight="normal" >0</text>
<text transform="translate(-6.7 590) scale(0.869 1)" font-size="9.6" fill="#000" font-family="'DejaVu Sans', sans-serif" text-anchor="start" font-weight="normal" >MACD(12,26,9) -411.00 -388.74</text>
<text transform="translate(-6 761) scale(0.864 1)" font-size="9.6" fill="#000" font-family="'DejaVu Sans', sans-serif" text-anchor="start" font-weight="normal" >RSI(14) 39.7503</text>
<text transform="translate(3 33.5) scale(0.86 1)" font-size="9.6" fill="#000" font-family="'DejaVu Sans', sans-serif" text-anchor="start" font-weight="normal" >HK50-,H4</text>
<text transform="translate(50.5 33.5) scale(0.835 1)" font-size="9.6" fill="#000" font-family="'DejaVu Sans', sans-serif" text-anchor="start" font-weight="normal" >20051.0 20189.0 19832.0 20144.0</text>
<text transform="translate(-12 935) scale(0.83 1)" font-size="9.6" fill="#000" font-family="'DejaVu Sans', sans-serif" text-anchor="start" font-weight="normal" >15 Dec 2021</text>
<text transform="translate(52 935) scale(0.83 1)" font-size="9.6" fill="#000" font-family="'DejaVu Sans', sans-serif" text-anchor="start" font-weight="normal" >17 Dec 05:00</text>
<text transform="translate(116 935) scale(0.83 1)" font-size="9.6" fill="#000" font-family="'DejaVu Sans', sans-serif" text-anchor="start" font-weight="normal" >23 Dec 05:00</text>
<text transform="translate(180 935) scale(0.83 1)" font-size="9.6" fill="#000" font-family="'DejaVu Sans', sans-serif" text-anchor="start" font-weight="normal" >31 Dec 01:15</text>
<text transform="translate(244 935) scale(0.83 1)" font-size="9.6" fill="#000" font-family="'DejaVu Sans', sans-serif" text-anchor="start" font-weight="normal" >6 Jan 05:00</text>
<text transform="translate(308 935) scale(0.83 1)" font-size="9.6" fill="#000" font-family="'DejaVu Sans', sans-serif" text-anchor="start" font-weight="normal" >12 Jan 05:00</text>
<text transform="translate(372 935) scale(0.83 1)" font-size="9.6" fill="#000" font-family="'DejaVu Sans', sans-serif" text-anchor="start" font-weight="normal" >18 Jan 05:00</text>
<text transform="translate(436 935) scale(0.83 1)" font-size="9.6" fill="#000" font-family="'DejaVu Sans', sans-serif" text-anchor="start" font-weight="normal" >24 Jan 05:00</text>
<text transform="translate(500 935) scale(0.83 1)" font-size="9.6" fill="#000" font-family="'DejaVu Sans', sans-serif" text-anchor="start" font-weight="normal" >28 Jan 05:00</text>
<text transform="translate(564 935) scale(0.83 1)" font-size="9.6" fill="#000" font-family="'DejaVu Sans', sans-serif" text-anchor="start" font-weight="normal" >9 Feb 01:15</text>
<text transform="translate(628 935) scale(0.83 1)" font-size="9.6" fill="#000" font-family="'DejaVu Sans', sans-serif" text-anchor="start" font-weight="normal" >15 Feb 01:15</text>
<text transform="translate(692 935) scale(0.83 1)" font-size="9.6" fill="#000" font-family="'DejaVu Sans', sans-serif" text-anchor="start" font-weight="normal" >21 Feb 01:15</text>
<text transform="translate(756 935) scale(0.83 1)" font-size="9.6" fill="#000" font-family="'DejaVu Sans', sans-serif" text-anchor="start" font-weight="normal" >25 Feb 01:15</text>
<text transform="translate(820 935) scale(0.83 1)" font-size="9.6" fill="#000" font-family="'DejaVu Sans', sans-serif" text-anchor="start" font-weight="normal" >3 Mar 01:15</text>
<text transform="translate(884 935) scale(0.83 1)" font-size="9.6" fill="#000" font-family="'DejaVu Sans', sans-serif" text-anchor="start" font-weight="normal" >9 Mar 01:15</text>
<text transform="translate(948 935) scale(0.83 1)" font-size="9.6" fill="#000" font-family="'DejaVu Sans', sans-serif" text-anchor="start" font-weight="normal" >15 Mar 01:15</text>
<text transform="translate(1012 935) scale(0.83 1)" font-size="9.6" fill="#000" font-family="'DejaVu Sans', sans-serif" text-anchor="start" font-weight="normal" >21 Mar 01:15</text>
<text transform="translate(1076 935) scale(0.83 1)" font-size="9.6" fill="#000" font-family="'DejaVu Sans', sans-serif" text-anchor="start" font-weight="normal" >25 Mar 01:15</text>
<text transform="translate(1140 935) scale(0.83 1)" font-size="9.6" fill="#000" font-family="'DejaVu Sans', sans-serif" text-anchor="start" font-weight="normal" >31 Mar 01:15</text>
<text transform="translate(1204 935) scale(0.83 1)" font-size="9.6" fill="#000" font-family="'DejaVu Sans', sans-serif" text-anchor="start" font-weight="normal" >7 Apr 01:15</text>
<text transform="translate(1268 935) scale(0.83 1)" font-size="9.6" fill="#000" font-family="'DejaVu Sans', sans-serif" text-anchor="start" font-weight="normal" >13 Apr 01:15</text>
<text transform="translate(1332 935) scale(0.83 1)" font-size="9.6" fill="#000" font-family="'DejaVu Sans', sans-serif" text-anchor="start" font-weight="normal" >21 Apr 01:15</text>
<text transform="translate(1396 935) scale(0.83 1)" font-size="9.6" fill="#000" font-family="'DejaVu Sans', sans-serif" text-anchor="start" font-weight="normal" >27 Apr 01:15</text>
<path d="M-11.5 923V926M52.5 923V926M116.5 923V926M180.5 923V926M244.5 923V926M308.5 923V926M372.5 923V926M436.5 923V926M500.5 923V926M564.5 923V926M628.5 923V926M692.5 923V926M756.5 923V926M820.5 923V926M884.5 923V926M948.5 923V926M1012.5 923V926M1076.5 923V926M1140.5 923V926M1204.5 923V926M1268.5 923V926M1332.5 923V926M1396.5 923V926" stroke="#000" shape-rendering="crispEdges"/>
<rect x="509.5" y="38.5" width="61" height="18" fill="#fff" stroke="#ff0000" shape-rendering="crispEdges"/>
<text transform="translate(511.4 54) scale(0.8412 1)" font-size="16.5" fill="#ff0000" font-family="'DejaVu Sans', sans-serif">25058.8</text>
<path d="M571 47.5H580V48" stroke="#ff0000" fill="none" shape-rendering="crispEdges"/>
<rect x="1109.5" y="228.5" width="61" height="18" fill="#fff" stroke="#ff0000" shape-rendering="crispEdges"/>
<text transform="translate(1111.4 244) scale(0.8412 1)" font-size="16.5" fill="#ff0000" font-family="'DejaVu Sans', sans-serif">22536.8</text>
<path d="M1171 237.5H1180" stroke="#ff0000" fill="none" shape-rendering="crispEdges"/>
<rect x="991.5" y="362.5" width="60" height="18" fill="#fff" stroke="#ff0000" shape-rendering="crispEdges"/>
<text transform="translate(992.8 378) scale(0.8412 1)" font-size="16.5" fill="#ff0000" font-family="'DejaVu Sans', sans-serif">20757.9</text>
<path d="M980.5 371V371.5H991" stroke="#ff0000" fill="none" shape-rendering="crispEdges"/>
<rect x="885.5" y="551.5" width="61" height="18" fill="#fff" stroke="#ff0000" shape-rendering="crispEdges"/>
<text transform="translate(887.8 567) scale(0.8412 1)" font-size="16.5" fill="#ff0000" font-family="'DejaVu Sans', sans-serif">18236.0</text>
<path d="M947 560.5H956" stroke="#ff0000" fill="none" shape-rendering="crispEdges"/>
<rect x="1325.5" y="447.5" width="61" height="18" fill="#fff" stroke="#ff0000" shape-rendering="crispEdges"/>
<text transform="translate(1327.4 463) scale(0.8412 1)" font-size="16.5" fill="#ff0000" font-family="'DejaVu Sans', sans-serif">19629.5</text>
<path d="M1387 456.5H1396" stroke="#ff0000" fill="none" shape-rendering="crispEdges"/>
<rect x="1183.5" y="410.5" width="73" height="24" fill="#fff" stroke="#ff0000" shape-rendering="crispEdges"/>
<text transform="translate(1184.8 431) scale(0.7749 1)" font-size="22" fill="#ff0000" font-family="'DejaVu Sans', sans-serif">20080.9</text>
<path d="M1173 422.5H1183" stroke="#ff0000" fill="none" shape-rendering="crispEdges"/>
</g>
<path d="M1180 256.5L1387.6 450.9" stroke="#ff0000" stroke-width="2.8" fill="none" stroke-linecap="round"/>
<path d="M1392 455L1380.6 451.1L1387.6 450.9L1387.4 443.8Z" fill="#ff0000" stroke="#ff0000" stroke-width="1.5" stroke-linejoin="round"/>
<path d="M1391 455L1431.9 430.1" stroke="#ff0000" stroke-width="3.5" fill="none" stroke-linecap="round"/>
<path d="M1437 427L1430.2 437.0L1431.9 430.1L1425.0 428.4Z" fill="#ff0000" stroke="#ff0000" stroke-width="1.5" stroke-linejoin="round"/>
<path d="M1291.6 640.1L1391.5 668.1" stroke="#ff0000" stroke-width="4" fill="none" stroke-linecap="round"/>
<path d="M1397.3 669.7L1385.4 671.5L1391.5 668.1L1388.1 661.9Z" fill="#ff0000" stroke="#ff0000" stroke-width="1.5" stroke-linejoin="round"/>
<path d="M1392 670L1429.6 661.8" stroke="#ff0000" stroke-width="4" fill="none" stroke-linecap="round"/>
<path d="M1435.5 660.5L1425.8 667.7L1429.6 661.8L1423.7 658.0Z" fill="#ff0000" stroke="#ff0000" stroke-width="1.5" stroke-linejoin="round"/>
<path d="M1351.8 875.4L1421.9 855.8" stroke="#ff0000" stroke-width="4" fill="none" stroke-linecap="round"/>
<path d="M1427.7 854.2L1418.5 862.0L1421.9 855.8L1415.8 852.3Z" fill="#ff0000" stroke="#ff0000" stroke-width="1.5" stroke-linejoin="round"/>
<path d="M1425.5 22H1435.5L1430.5 27Z" fill="#c0c0c0"/>
<defs>
<linearGradient id="gTop" x1="0" y1="0" x2="0" y2="1"><stop offset="0" stop-color="#5e5eff"/><stop offset="1" stop-color="#3b3bf2"/></linearGradient>
<linearGradient id="gBot" x1="0" y1="0" x2="0" y2="1"><stop offset="0" stop-color="#3636e6"/><stop offset="1" stop-color="#0000b4"/></linearGradient>
<linearGradient id="gBtn" x1="0" y1="0" x2="0" y2="1"><stop offset="0" stop-color="#f2f2f2"/><stop offset="0.42" stop-color="#ececec"/><stop offset="0.45" stop-color="#dcdcdc"/><stop offset="1" stop-color="#d2d2d2"/></linearGradient>
</defs>
<g shape-rendering="crispEdges">
<rect x="0" y="41" width="210" height="57" fill="#fff"/>
<rect x="0" y="41" width="43" height="25" fill="#00009a"/>
<rect x="0" y="42" width="42" height="23" fill="url(#gTop)"/>
<rect x="0" y="65" width="101" height="33" fill="#00009a"/>
<rect x="0" y="66" width="100" height="31" fill="url(#gBot)"/>
<rect x="0" y="64" width="39" height="1" fill="#00008a"/>
<rect x="0" y="65" width="39" height="1" fill="#6a6aff"/>
<rect x="158" y="41" width="52" height="25" fill="#00009a"/>
<rect x="159" y="42" width="50" height="24" fill="url(#gTop)"/>
<rect x="102" y="65" width="108" height="33" fill="#00009a"/>
<rect x="103" y="66" width="106" height="31" fill="url(#gBot)"/>
<rect x="159" y="65" width="50" height="2" fill="url(#gTop)"/>
<rect x="162" y="64" width="44" height="1" fill="#00008a"/>
<rect x="162" y="65" width="44" height="1" fill="#6a6aff"/>
<rect x="45" y="41" width="111" height="22" fill="#a9a9a9"/>
<rect x="46" y="42" width="109" height="20" fill="#fff"/>
<rect x="47" y="43" width="18" height="18" fill="url(#gBtn)"/>
<rect x="66" y="42" width="1" height="20" fill="#a9a9a9"/>
<rect x="134" y="42" width="1" height="20" fill="#a9a9a9"/>
<rect x="136" y="43" width="18" height="18" fill="url(#gBtn)"/>
</g>
<path d="M53 50H58.5L55.75 53Z" fill="#4a5ac8"/>
<path d="M142 53H147.5L144.75 50Z" fill="#4a5ac8"/>
<g font-family="'Liberation Sans', Arial, sans-serif">
<text x="3.5" y="57" font-size="12.5" fill="#fff" textLength="25.5" lengthAdjust="spacingAndGlyphs">SELL</text>
<text x="171.5" y="57" font-size="12.5" fill="#fff" textLength="23.5" lengthAdjust="spacingAndGlyphs">BUY</text>
<text x="130.5" y="56" font-size="12" fill="#000" text-anchor="end">1.00</text>
<text x="7.5" y="93" font-size="12.5" font-weight="bold" fill="#fff">20142</text>
<rect x="47" y="89" width="3" height="4" fill="#fff"/>
<text transform="translate(53.2 93) scale(0.86 1)" font-size="34" fill="#fff">5</text>
<text x="117" y="93" font-size="12.5" font-weight="bold" fill="#fff">20155</text>
<rect x="157" y="89" width="3" height="4" fill="#fff"/>
<text transform="translate(164.2 93) scale(0.86 1)" font-size="34" fill="#fff">5</text>
</g>
<rect x="0" y="0" width="1694" height="16" fill="#f0f0f0"/>
<rect x="0" y="16" width="1694" height="1" fill="#f6f6f6"/>
<rect x="0" y="17" width="1694" height="1" fill="#a0a0a0"/>
<rect x="0" y="18" width="1694" height="1" fill="#646464"/>
<g shape-rendering="crispEdges" fill="#a0a0a0">
<rect x="8" y="0" width="1" height="15"/>
<rect x="244" y="0" width="1" height="15"/>
<rect x="282" y="0" width="1" height="15"/>
<rect x="339" y="0" width="1" height="15"/>
<rect x="429" y="0" width="1" height="15"/>
<rect x="434" y="0" width="1" height="15"/>
<rect x="462" y="0" width="1" height="15"/>
<rect x="491" y="0" width="1" height="15"/>
<rect x="612" y="0" width="1" height="15"/>
<rect x="622" y="0" width="1" height="15"/>
<rect x="679" y="0" width="1" height="15"/>
<rect x="918" y="0" width="1" height="15"/>
<rect x="1179" y="0" width="1" height="15"/>
</g>
<g fill="#a8a8a8" shape-rendering="crispEdges">
<rect x="248" y="1" width="3" height="1"/>
<rect x="248" y="3" width="3" height="1"/>
<rect x="248" y="5" width="3" height="1"/>
<rect x="248" y="7" width="3" height="1"/>
<rect x="248" y="9" width="3" height="1"/>
<rect x="248" y="11" width="3" height="1"/>
<rect x="248" y="13" width="3" height="1"/>
<rect x="616" y="1" width="3" height="1"/>
<rect x="616" y="3" width="3" height="1"/>
<rect x="616" y="5" width="3" height="1"/>
<rect x="616" y="7" width="3" height="1"/>
<rect x="616" y="9" width="3" height="1"/>
<rect x="616" y="11" width="3" height="1"/>
<rect x="616" y="13" width="3" height="1"/>
<rect x="922" y="1" width="3" height="1"/>
<rect x="922" y="3" width="3" height="1"/>
<rect x="922" y="5" width="3" height="1"/>
<rect x="922" y="7" width="3" height="1"/>
<rect x="922" y="9" width="3" height="1"/>
<rect x="922" y="11" width="3" height="1"/>
<rect x="922" y="13" width="3" height="1"/>
</g>
<g fill="#e6e6e6">
<rect x="283" y="0" width="24" height="15"/>
<rect x="436" y="0" width="22" height="15"/>
<rect x="463" y="0" width="23" height="15"/>
<rect x="623" y="0" width="24" height="15"/>
</g>
<rect x="1069" y="0" width="25" height="15" fill="#f6f6f6"/><rect x="1068" y="0" width="1" height="15" fill="#8c8c8c"/>
<path d="M6 2.5L7.5 1L9 2.5L7.5 4Z" fill="#404040"/>
<rect x="0" y="11" width="2" height="2" fill="#e0a040"/>
<path d="M18.5 -3V10.5H28" fill="#fafafa" stroke="#707070"/>
<rect x="19" y="-2" width="9" height="12" fill="#f8f8f8"/>
<path d="M20 1H27M20 4H27M20 7H25" stroke="#909090"/>
<path d="M28 3V15M22 9H34" stroke="#1a9a1a" stroke-width="4.6"/><path d="M28 3.8V14.2M22.8 9H33.2" stroke="#3ccf3c" stroke-width="2.6"/>
<rect x="501" y="-2" width="9" height="10" fill="#f8f8f8" stroke="#808080"/>
<path d="M511 3V14M505.5 8.5H516.5" stroke="#2fb52f" stroke-width="3.2"/>
<path d="M85 7L92 -1L101 6L94 13Z" fill="#d9a520" stroke="#9a6a10"/>
<path d="M87 7L92 2L98 6L93 11Z" fill="#f0cc50"/>
<rect x="115" y="-2" width="10" height="10" fill="#2f86e0"/><path d="M117 2H123M117 5H121" stroke="#cfe6ff"/>
<path d="M113.5 12.5Q112.5 8 117 8.5Q118 5.5 122 6Q126 6 126.5 8.5Q129.5 9 129 12.5Z" fill="#eef4fb" stroke="#8fa6c4"/>
<g fill="none" stroke="#5080d0"><circle cx="149" cy="5" r="7" stroke-dasharray="3 2"/><circle cx="149" cy="5" r="4.5"/></g>
<circle cx="149" cy="5" r="1.6" fill="#2050c0"/><path d="M149.5 5V12.5M149 12.5L156 9" stroke="#30a030" stroke-width="1.3" fill="none"/>
<ellipse cx="176" cy="1" rx="8" ry="3.5" fill="#70b8e8"/>
<path d="M168 3L176 12L182 9L184 3Z" fill="#f0d040" stroke="#c0a020"/>
<circle cx="180.5" cy="8.5" r="4.5" fill="#d02020"/><rect x="179" y="7" width="3" height="3" fill="#fff"/>
<g stroke="#505050" fill="none" shape-rendering="crispEdges">
<path d="M262.5 0V12.5M260 10.5H275"/>
<path d="M290.5 0V12.5M288 10.5H303"/>
<path d="M318.5 0V12.5M316 10.5H331"/>
<path d="M442.5 0V12.5M440 10.5H455"/>
<path d="M470.5 0V12.5M468 10.5H483"/>
</g>
<path d="M268.5 1V8M266 2H268.5M268.5 7H271" stroke="#20a020" fill="none" shape-rendering="crispEdges"/>
<rect x="294" y="-1" width="4" height="6" fill="#20c020" stroke="#108010"/><path d="M296.5 5V8" stroke="#108010"/>
<path d="M317 7Q322 -1 329 6" stroke="#20a020" fill="none"/>
<path d="M448 2L452 5L448 8Z" fill="#20b020"/>
<path d="M477.5 0V11" stroke="#2060c0"/><path d="M478 5L483 2.5V7.5Z" fill="#e05010"/>
<path d="M357 7L363 13" stroke="#c8a820" stroke-width="3"/>
<circle cx="354" cy="3" r="5.2" fill="#d8ecfa" stroke="#3a88d8" stroke-width="1.4"/>
<path d="M351 3H357" stroke="#2a70c8" stroke-width="1.6"/>
<path d="M354 0V6" stroke="#2a70c8" stroke-width="1.6"/>
<path d="M386 7L392 13" stroke="#c8a820" stroke-width="3"/>
<circle cx="383" cy="3" r="5.2" fill="#d8ecfa" stroke="#3a88d8" stroke-width="1.4"/>
<path d="M380 3H386" stroke="#2a70c8" stroke-width="1.6"/>
<g shape-rendering="crispEdges"><rect x="404" y="-2" width="8" height="6" fill="#40a040"/><rect x="412" y="-2" width="8" height="6" fill="#3070d0"/><rect x="404" y="5" width="8" height="7" fill="#3070d0"/><rect x="412" y="5" width="8" height="7" fill="#40a040"/></g>
<path d="M405 8H411M413 8H419M405 1H411M413 1H419" stroke="#fff" shape-rendering="crispEdges"/>
<circle cx="547" cy="4" r="6.8" fill="#e8f0f8" stroke="#2a70d0" stroke-width="2"/>
<path d="M547 0V4.5H550" stroke="#333" fill="none"/>
<rect x="578.5" y="-2.5" width="15" height="13" fill="#fff" stroke="#4a80c8" shape-rendering="crispEdges"/>
<path d="M579 4.5H593" stroke="#4a80c8" shape-rendering="crispEdges"/>
<path d="M580 2L583 1L586 1.5L590 0.5M580 8L583 6.5L586 8L591 6" stroke="#c04020" fill="none"/>
<path d="M580 8L583 6.5L586 8L591 6" stroke="#30a030" fill="none"/>
<path d="M522.5 4H528.5L525.5 7Z" fill="#000"/>
<path d="M561.5 4H567.5L564.5 7Z" fill="#000"/>
<path d="M600.5 4H606.5L603.5 7Z" fill="#000"/>
<path d="M906.5 4H912.5L909.5 7Z" fill="#000"/>
<path d="M630 -1V9L632.5 7L635 12L636.5 11.2L634 6.5H637Z" fill="#404040"/>
<path d="M655 5.5H661M664 5.5H670M662.5 0V4M662.5 7V13" stroke="#505050" fill="none" shape-rendering="crispEdges"/>
<path d="M696.5 0V12M719 5.5H731" stroke="#505050" fill="none" shape-rendering="crispEdges"/>
<path d="M747 12L759 0" stroke="#505050" fill="none"/>
<path d="M773 7L783 0M775 10L786 1M774 8.5L784 1.5" stroke="#505050" fill="none"/>
<text x="784" y="14" font-family="'Liberation Sans', Arial, sans-serif" font-size="6.5" font-weight="bold" fill="#404040">E</text>
<path d="M802 1.5H815M802 5.5H815M802 9.5H812" stroke="#505050" stroke-dasharray="1 1" fill="none" shape-rendering="crispEdges"/>
<text x="812" y="14" font-family="'Liberation Sans', Arial, sans-serif" font-size="6.5" font-weight="bold" fill="#404040">F</text>
<text x="833" y="9.5" font-family="'Liberation Sans', Arial, sans-serif" font-size="10" font-weight="bold" fill="#505050">A</text>
<rect x="859.5" y="1.5" width="11" height="10" fill="none" stroke="#606060" stroke-dasharray="1 1" shape-rendering="crispEdges"/>
<text x="861" y="10" font-family="'Liberation Sans', Arial, sans-serif" font-size="10" font-weight="bold" fill="#505050">T</text>
<path d="M887 3L890 0L893 3L890 6Z M895 9L898 6L901 9L898 12Z" fill="#505050"/><path d="M889 5L892 8L897 2" stroke="#505050" fill="none"/>
<g font-family="'Liberation Sans', 'Noto Sans CJK SC', 'WenQuanYi Zen Hei', sans-serif" font-size="12" fill="#000">
<text x="37" y="9">新订单</text>
<text x="189" y="9">自动交易</text>
</g>
<g font-family="'Liberation Sans', Arial, sans-serif" font-size="10" fill="#404040">
<text x="933.5" y="9">M1</text>
<text x="961.5" y="9">M5</text>
<text x="987.5" y="9">M15</text>
<text x="1015" y="9">M30</text>
<text x="1046" y="9">H1</text>
<text x="1073.5" y="9">H4</text>
<text x="1102.5" y="9">D1</text>
<text x="1130" y="9">W1</text>
<text x="1157" y="9">MN</text>
</g>
<path d="M1643 11L1647 7" stroke="#2a60c0" stroke-width="2.2"/><circle cx="1649.5" cy="3.5" r="3.6" fill="none" stroke="#3070d0" stroke-width="1.4"/>
<path d="M1666 2Q1666 -3 1674 -3Q1682 -3 1682 2Q1682 7 1674 7L1670 12L1671 7Q1666 6 1666 2Z" fill="#eeeeef" stroke="#a8a8b0"/>
<circle cx="1681" cy="3" r="6.8" fill="#d83020"/>
<text x="1681" y="6.5" font-family="'Liberation Sans', Arial, sans-serif" font-size="10" fill="#fff" text-anchor="middle">1</text>
</svg>
<div id="rs"></div>
</body></html>
